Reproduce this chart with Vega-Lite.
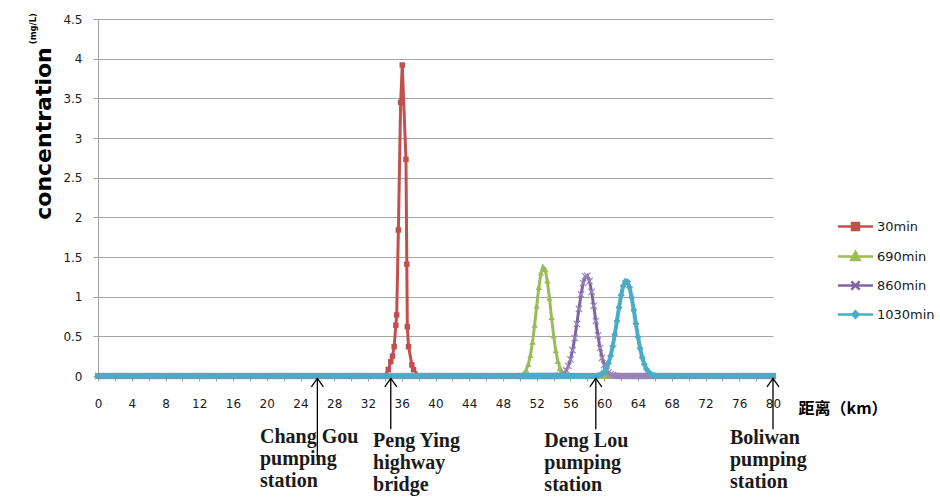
{
  "$schema": "https://vega.github.io/schema/vega-lite/v6.json",
  "width": 675,
  "height": 357,
  "autosize": "none",
  "padding": {"left": 98, "top": 19, "right": 167, "bottom": 125},
  "background": "white",
  "config": {"view": {"stroke": null}},
  "title": {"text": "(mg/L)", "orient": "left", "anchor": "end", "font": "DejaVu Sans", "fontSize": 8.5, "fontWeight": "bold", "color": "#000000", "offset": -5},
  "datasets": {
    "main": [
      {"x":0,"a":0,"b":0,"c":0,"d":0},{"x":0.5,"a":0,"b":0,"c":0,"d":0},{"x":1,"a":0,"b":0,"c":0,"d":0},{"x":1.5,"a":0,"b":0,"c":0,"d":0},
      {"x":2,"a":0,"b":0,"c":0,"d":0},{"x":2.5,"a":0,"b":0,"c":0,"d":0},{"x":3,"a":0,"b":0,"c":0,"d":0},{"x":3.5,"a":0,"b":0,"c":0,"d":0},
      {"x":4,"a":0,"b":0,"c":0,"d":0},{"x":4.5,"a":0,"b":0,"c":0,"d":0},{"x":5,"a":0,"b":0,"c":0,"d":0},{"x":5.5,"a":0,"b":0,"c":0,"d":0},
      {"x":6,"a":0,"b":0,"c":0,"d":0},{"x":6.5,"a":0,"b":0,"c":0,"d":0},{"x":7,"a":0,"b":0,"c":0,"d":0},{"x":7.5,"a":0,"b":0,"c":0,"d":0},
      {"x":8,"a":0,"b":0,"c":0,"d":0},{"x":8.5,"a":0,"b":0,"c":0,"d":0},{"x":9,"a":0,"b":0,"c":0,"d":0},{"x":9.5,"a":0,"b":0,"c":0,"d":0},
      {"x":10,"a":0,"b":0,"c":0,"d":0},{"x":10.5,"a":0,"b":0,"c":0,"d":0},{"x":11,"a":0,"b":0,"c":0,"d":0},{"x":11.5,"a":0,"b":0,"c":0,"d":0},
      {"x":12,"a":0,"b":0,"c":0,"d":0},{"x":12.5,"a":0,"b":0,"c":0,"d":0},{"x":13,"a":0,"b":0,"c":0,"d":0},{"x":13.5,"a":0,"b":0,"c":0,"d":0},
      {"x":14,"a":0,"b":0,"c":0,"d":0},{"x":14.5,"a":0,"b":0,"c":0,"d":0},{"x":15,"a":0,"b":0,"c":0,"d":0},{"x":15.5,"a":0,"b":0,"c":0,"d":0},
      {"x":16,"a":0,"b":0,"c":0,"d":0},{"x":16.5,"a":0,"b":0,"c":0,"d":0},{"x":17,"a":0,"b":0,"c":0,"d":0},{"x":17.5,"a":0,"b":0,"c":0,"d":0},
      {"x":18,"a":0,"b":0,"c":0,"d":0},{"x":18.5,"a":0,"b":0,"c":0,"d":0},{"x":19,"a":0,"b":0,"c":0,"d":0},{"x":19.5,"a":0,"b":0,"c":0,"d":0},
      {"x":20,"a":0,"b":0,"c":0,"d":0},{"x":20.5,"a":0,"b":0,"c":0,"d":0},{"x":21,"a":0,"b":0,"c":0,"d":0},{"x":21.5,"a":0,"b":0,"c":0,"d":0},
      {"x":22,"a":0,"b":0,"c":0,"d":0},{"x":22.5,"a":0,"b":0,"c":0,"d":0},{"x":23,"a":0,"b":0,"c":0,"d":0},{"x":23.5,"a":0,"b":0,"c":0,"d":0},
      {"x":24,"a":0,"b":0,"c":0,"d":0},{"x":24.5,"a":0,"b":0,"c":0,"d":0},{"x":25,"a":0,"b":0,"c":0,"d":0},{"x":25.5,"a":0,"b":0,"c":0,"d":0},
      {"x":26,"a":0,"b":0,"c":0,"d":0},{"x":26.5,"a":0,"b":0,"c":0,"d":0},{"x":27,"a":0,"b":0,"c":0,"d":0},{"x":27.5,"a":0,"b":0,"c":0,"d":0},
      {"x":28,"a":0,"b":0,"c":0,"d":0},{"x":28.5,"a":0,"b":0,"c":0,"d":0},{"x":29,"a":0,"b":0,"c":0,"d":0},{"x":29.5,"a":0,"b":0,"c":0,"d":0},
      {"x":30,"a":0,"b":0,"c":0,"d":0},{"x":30.5,"a":0,"b":0,"c":0,"d":0},{"x":31,"a":0,"b":0,"c":0,"d":0},{"x":31.5,"a":0,"b":0,"c":0,"d":0},
      {"x":32,"a":0,"b":0,"c":0,"d":0},{"x":32.5,"a":0,"b":0,"c":0,"d":0},{"x":33,"a":0,"b":0,"c":0,"d":0},{"x":33.5,"a":0,"b":0,"c":0,"d":0},
      {"x":34,"a":0,"b":0,"c":0,"d":0},
      {"x":34.4,"a":0.08},
      {"x":34.5,"b":0,"c":0,"d":0},
      {"x":34.7,"a":0.18},
      {"x":34.9,"a":0.25},
      {"x":35,"b":0,"c":0,"d":0},
      {"x":35.1,"a":0.37},
      {"x":35.3,"a":0.64},
      {"x":35.4,"a":0.77},
      {"x":35.5,"b":0,"c":0,"d":0},
      {"x":35.6,"a":1.84},
      {"x":35.87,"a":3.45},
      {"x":36,"b":0,"c":0,"d":0},
      {"x":36.06,"a":3.92},
      {"x":36.5,"a":2.73,"b":0,"c":0,"d":0},
      {"x":36.6,"a":1.41},
      {"x":36.66,"a":0.62},
      {"x":36.8,"a":0.37},
      {"x":37,"b":0,"c":0,"d":0},
      {"x":37.2,"a":0.14},
      {"x":37.4,"a":0.08},
      {"x":37.5,"b":0,"c":0,"d":0},
      {"x":38,"a":0,"b":0,"c":0,"d":0},{"x":38.5,"a":0,"b":0,"c":0,"d":0},{"x":39,"a":0,"b":0,"c":0,"d":0},{"x":39.5,"a":0,"b":0,"c":0,"d":0},
      {"x":40,"a":0,"b":0,"c":0,"d":0},{"x":40.5,"a":0,"b":0,"c":0,"d":0},{"x":41,"a":0,"b":0,"c":0,"d":0},{"x":41.5,"a":0,"b":0,"c":0,"d":0},
      {"x":42,"a":0,"b":0,"c":0,"d":0},{"x":42.5,"a":0,"b":0,"c":0,"d":0},{"x":43,"a":0,"b":0,"c":0,"d":0},{"x":43.5,"a":0,"b":0,"c":0,"d":0},
      {"x":44,"a":0,"b":0,"c":0,"d":0},{"x":44.5,"a":0,"b":0,"c":0,"d":0},{"x":45,"a":0,"b":0,"c":0,"d":0},{"x":45.5,"a":0,"b":0,"c":0,"d":0},
      {"x":46,"a":0,"b":0,"c":0,"d":0},{"x":46.5,"a":0,"b":0,"c":0,"d":0},{"x":47,"a":0,"b":0,"c":0,"d":0},{"x":47.5,"a":0,"b":0,"c":0,"d":0},
      {"x":48,"a":0,"b":0,"c":0,"d":0},{"x":48.5,"a":0,"b":0,"c":0,"d":0},{"x":49,"a":0,"b":0,"c":0,"d":0},{"x":49.5,"a":0,"b":0,"c":0,"d":0},
      {"x":50,"a":0,"b":0.006,"c":0,"d":0},
      {"x":50.25,"a":0,"b":0.015,"c":0,"d":0},
      {"x":50.5,"a":0,"b":0.035,"c":0,"d":0},
      {"x":50.75,"a":0,"b":0.075,"c":0,"d":0},
      {"x":51,"a":0,"b":0.147,"c":0,"d":0},
      {"x":51.25,"a":0,"b":0.262,"c":0,"d":0},
      {"x":51.5,"a":0,"b":0.428,"c":0,"d":0},
      {"x":51.75,"a":0,"b":0.643,"c":0,"d":0},
      {"x":52,"a":0,"b":0.886,"c":0,"d":0},
      {"x":52.25,"a":0,"b":1.12,"c":0,"d":0},
      {"x":52.5,"a":0,"b":1.297,"c":0,"d":0},
      {"x":52.75,"a":0,"b":1.377,"c":0,"d":0},
      {"x":53,"a":0,"b":1.343,"c":0,"d":0},
      {"x":53.25,"a":0,"b":1.2,"c":0,"d":0},
      {"x":53.5,"a":0,"b":0.983,"c":0,"d":0},
      {"x":53.75,"a":0,"b":0.739,"c":0,"d":0},
      {"x":54,"a":0,"b":0.509,"c":0,"d":0},
      {"x":54.25,"a":0,"b":0.32,"c":0,"d":0},
      {"x":54.5,"a":0,"b":0.187,"c":0.003,"d":0},
      {"x":54.75,"a":0,"b":0.099,"c":0.008,"d":0},
      {"x":55,"a":0,"b":0.048,"c":0.019,"d":0},
      {"x":55.25,"a":0,"b":0.022,"c":0.038,"d":0},
      {"x":55.5,"a":0,"b":0.009,"c":0.071,"d":0},
      {"x":55.75,"a":0,"b":0.003,"c":0.126,"d":0},
      {"x":56,"a":0,"b":0,"c":0.209,"d":0},
      {"x":56.25,"a":0,"b":0,"c":0.326,"d":0},
      {"x":56.5,"a":0,"b":0,"c":0.477,"d":0},
      {"x":56.75,"a":0,"b":0,"c":0.656,"d":0},
      {"x":57,"a":0,"b":0,"c":0.847,"d":0},
      {"x":57.25,"a":0,"b":0,"c":1.028,"d":0},
      {"x":57.5,"a":0,"b":0,"c":1.172,"d":0},
      {"x":57.75,"a":0,"b":0,"c":1.256,"d":0},
      {"x":58,"a":0,"b":0,"c":1.264,"d":0},
      {"x":58.25,"a":0,"b":0,"c":1.195,"d":0},
      {"x":58.5,"a":0,"b":0,"c":1.061,"d":0},
      {"x":58.75,"a":0,"b":0,"c":0.885,"d":0},
      {"x":59,"a":0,"b":0,"c":0.693,"d":0},
      {"x":59.25,"a":0,"b":0,"c":0.511,"d":0.007},
      {"x":59.5,"a":0,"b":0,"c":0.353,"d":0.015},
      {"x":59.75,"a":0,"b":0,"c":0.229,"d":0.03},
      {"x":60,"a":0,"b":0,"c":0.14,"d":0.056},
      {"x":60.25,"a":0,"b":0,"c":0.08,"d":0.098},
      {"x":60.5,"a":0,"b":0,"c":0.043,"d":0.162},
      {"x":60.75,"a":0,"b":0,"c":0.022,"d":0.253},
      {"x":61,"a":0,"b":0,"c":0.01,"d":0.375},
      {"x":61.25,"a":0,"b":0,"c":0.004,"d":0.524},
      {"x":61.5,"a":0,"b":0,"c":0,"d":0.692},
      {"x":61.75,"a":0,"b":0,"c":0,"d":0.864},
      {"x":62,"a":0,"b":0,"c":0,"d":1.019},
      {"x":62.25,"a":0,"b":0,"c":0,"d":1.135},
      {"x":62.5,"a":0,"b":0,"c":0,"d":1.195},
      {"x":62.75,"a":0,"b":0,"c":0,"d":1.188},
      {"x":63,"a":0,"b":0,"c":0,"d":1.116},
      {"x":63.25,"a":0,"b":0,"c":0,"d":0.99},
      {"x":63.5,"a":0,"b":0,"c":0,"d":0.83},
      {"x":63.75,"a":0,"b":0,"c":0,"d":0.658},
      {"x":64,"a":0,"b":0,"c":0,"d":0.492},
      {"x":64.25,"a":0,"b":0,"c":0,"d":0.348},
      {"x":64.5,"a":0,"b":0,"c":0,"d":0.233},
      {"x":64.75,"a":0,"b":0,"c":0,"d":0.147},
      {"x":65,"a":0,"b":0,"c":0,"d":0.087},
      {"x":65.25,"a":0,"b":0,"c":0,"d":0.049},
      {"x":65.5,"a":0,"b":0,"c":0,"d":0.026},
      {"x":65.75,"a":0,"b":0,"c":0,"d":0.013},
      {"x":66,"a":0,"b":0,"c":0,"d":0.006},
      {"x":66.5,"a":0,"b":0,"c":0,"d":0},{"x":67,"a":0,"b":0,"c":0,"d":0},{"x":67.5,"a":0,"b":0,"c":0,"d":0},
      {"x":68,"a":0,"b":0,"c":0,"d":0},{"x":68.5,"a":0,"b":0,"c":0,"d":0},{"x":69,"a":0,"b":0,"c":0,"d":0},{"x":69.5,"a":0,"b":0,"c":0,"d":0},
      {"x":70,"a":0,"b":0,"c":0,"d":0},{"x":70.5,"a":0,"b":0,"c":0,"d":0},{"x":71,"a":0,"b":0,"c":0,"d":0},{"x":71.5,"a":0,"b":0,"c":0,"d":0},
      {"x":72,"a":0,"b":0,"c":0,"d":0},{"x":72.5,"a":0,"b":0,"c":0,"d":0},{"x":73,"a":0,"b":0,"c":0,"d":0},{"x":73.5,"a":0,"b":0,"c":0,"d":0},
      {"x":74,"a":0,"b":0,"c":0,"d":0},{"x":74.5,"a":0,"b":0,"c":0,"d":0},{"x":75,"a":0,"b":0,"c":0,"d":0},{"x":75.5,"a":0,"b":0,"c":0,"d":0},
      {"x":76,"a":0,"b":0,"c":0,"d":0},{"x":76.5,"a":0,"b":0,"c":0,"d":0},{"x":77,"a":0,"b":0,"c":0,"d":0},{"x":77.5,"a":0,"b":0,"c":0,"d":0},
      {"x":78,"a":0,"b":0,"c":0,"d":0},{"x":78.5,"a":0,"b":0,"c":0,"d":0},{"x":79,"a":0,"b":0,"c":0,"d":0},{"x":79.5,"a":0,"b":0,"c":0,"d":0},
      {"x":80,"a":0,"b":0,"c":0,"d":0}
    ],
    "arrows": [
      {"x":26,"y0":-0.03,"y1":-1.06},
      {"x":34.7,"y0":-0.03,"y1":-0.67},
      {"x":59,"y0":-0.03,"y1":-0.67},
      {"x":80,"y0":-0.03,"y1":-0.67}
    ],
    "notes": [
      {"lx":19.2,"ly":-0.77,"label":["Chang Gou","pumping","station"]},
      {"lx":32.6,"ly":-0.82,"label":["Peng Ying","highway","bridge"]},
      {"lx":52.9,"ly":-0.82,"label":["Deng Lou","pumping","station"]},
      {"lx":74.9,"ly":-0.78,"label":["Boliwan","pumping","station"]}
    ]
  },
  "layer": [
    {
      "data": {"name": "main"},
      "transform": [{"filter": "isValid(datum.a)"}],
      "mark": {"type": "line", "color": "#C0504D", "strokeWidth": 3, "point": {"shape": "square", "size": 30, "filled": true, "color": "#C0504D"}},
      "encoding": {
        "x": {"field": "x", "type": "quantitative", "title": "距离（km）",
          "scale": {"domain": [0, 80], "nice": false},
          "axis": {"values": [0,2,4,6,8,10,12,14,16,18,20,22,24,26,28,30,32,34,36,38,40,42,44,46,48,50,52,54,56,58,60,62,64,66,68,70,72,74,76,78,80],
            "tickCount": 100,
            "labelExpr": "datum.value % 4 == 0 ? '' + datum.value : ''",
            "grid": false, "tickSize": 5, "tickColor": "#A0A0A0", "domainColor": "#A0A0A0",
            "labelPadding": 17, "labelFont": "DejaVu Sans", "labelFontSize": 12, "labelColor": "#1a1a1a",
            "labelFlush": false, "labelOverlap": false,
            "titleFont": "Noto Sans CJK SC", "titleFontSize": 16, "titleFontWeight": "bold", "titleColor": "#000000",
            "titleX": 700, "titleY": 32, "titleAlign": "left", "titleBaseline": "middle"}},
        "y": {"field": "a", "type": "quantitative", "title": "concentration",
          "scale": {"domain": [0, 4.5], "nice": false},
          "axis": {"values": [0,0.5,1,1.5,2,2.5,3,3.5,4,4.5],
            "tickCount": 100,
            "labelExpr": "datum.value % 1 == 0 ? '' + datum.value : datum.value + '\u00a0\u00a0'",
            "labelOverlap": false,
            "grid": true, "gridColor": "#A6A6A6", "tickSize": 5, "tickColor": "#A0A0A0", "domainColor": "#A0A0A0",
            "labelPadding": 11, "labelFont": "DejaVu Sans", "labelFontSize": 12, "labelColor": "#1a1a1a",
            "titleFont": "DejaVu Sans", "titleFontSize": 22, "titleFontWeight": "bold", "titleColor": "#000000",
            "titleX": -55, "titleY": 114, "titleAngle": 270, "titleAlign": "center", "titleBaseline": "middle"}}
      }
    },
    {
      "data": {"name": "main"},
      "transform": [{"filter": "isValid(datum.b)"}],
      "mark": {"type": "line", "color": "#9BBB59", "strokeWidth": 3, "point": {"shape": "triangle-up", "size": 40, "filled": true, "color": "#9BBB59"}},
      "encoding": {
        "x": {"field": "x", "type": "quantitative", "title": "距离（km）", "scale": {"domain": [0, 80], "nice": false}},
        "y": {"field": "b", "type": "quantitative", "title": "concentration", "scale": {"domain": [0, 4.5], "nice": false}}
      }
    },
    {
      "data": {"name": "main"},
      "transform": [{"filter": "isValid(datum.c)"}],
      "mark": {"type": "line", "color": "#8064A2", "strokeWidth": 3, "point": {"shape": "M-1,-1L1,1M-1,1L1,-1", "size": 40, "filled": false, "strokeWidth": 1.2, "color": "#9A84BA"}},
      "encoding": {
        "x": {"field": "x", "type": "quantitative", "title": "距离（km）", "scale": {"domain": [0, 80], "nice": false}},
        "y": {"field": "c", "type": "quantitative", "title": "concentration", "scale": {"domain": [0, 4.5], "nice": false}}
      }
    },
    {
      "data": {"name": "main"},
      "transform": [{"filter": "isValid(datum.d)"}],
      "mark": {"type": "line", "color": "#4BACC6", "strokeWidth": 4, "point": {"shape": "diamond", "size": 50, "filled": true, "color": "#4BACC6"}},
      "encoding": {
        "x": {"field": "x", "type": "quantitative", "title": "距离（km）", "scale": {"domain": [0, 80], "nice": false}},
        "y": {"field": "d", "type": "quantitative", "title": "concentration", "scale": {"domain": [0, 4.5], "nice": false}}
      }
    },
    {
      "data": {"name": "arrows"},
      "mark": {"type": "rule", "color": "#000000", "strokeWidth": 1.3},
      "encoding": {
        "x": {"field": "x", "type": "quantitative", "title": "距离（km）", "scale": {"domain": [0, 80], "nice": false}},
        "y": {"field": "y0", "type": "quantitative", "title": "concentration", "scale": {"domain": [0, 4.5], "nice": false}},
        "y2": {"field": "y1"}
      }
    },
    {
      "data": {"name": "arrows"},
      "mark": {"type": "point", "shape": "M-1,1.4L0,0L1,1.4", "size": 144, "filled": false, "color": "#000000", "strokeWidth": 1.3, "opacity": 1},
      "encoding": {
        "x": {"field": "x", "type": "quantitative", "title": "距离（km）", "scale": {"domain": [0, 80], "nice": false}},
        "y": {"field": "y0", "type": "quantitative", "title": "concentration", "scale": {"domain": [0, 4.5], "nice": false}}
      }
    },
    {
      "data": {"name": "notes"},
      "mark": {"type": "text", "align": "left", "baseline": "middle", "font": "Liberation Serif", "fontSize": 20, "fontWeight": "bold", "lineHeight": 22, "color": "#1a1a1a"},
      "encoding": {
        "x": {"field": "lx", "type": "quantitative", "title": "距离（km）", "scale": {"domain": [0, 80], "nice": false}},
        "y": {"field": "ly", "type": "quantitative", "title": "concentration", "scale": {"domain": [0, 4.5], "nice": false}},
        "text": {"field": "label", "type": "nominal"}
      }
    },
    {
      "data": {"name": "main"},
      "transform": [{"filter": "false"}],
      "mark": {"type": "point", "filled": true, "strokeWidth": 2.5, "opacity": 1},
      "encoding": {
        "fill": {"field": "s", "type": "nominal", "title": null,
          "scale": {"domain": ["30min", "690min", "860min", "1030min"], "range": ["#C0504D", "#9BBB59", "#8064A2", "#4BACC6"]},
          "legend": {"orient": "none", "legendX": 751, "legendY": 201, "padding": 0,
            "symbolSize": 49, "symbolStrokeWidth": 2.5, "labelOffset": 15, "rowPadding": 11,
            "labelFont": "DejaVu Sans", "labelFontSize": 13, "labelColor": "#1a1a1a"}},
        "stroke": {"field": "s", "type": "nominal", "title": null,
          "scale": {"domain": ["30min", "690min", "860min", "1030min"], "range": ["#C0504D", "#9BBB59", "#8064A2", "#4BACC6"]}},
        "shape": {"field": "s", "type": "nominal", "title": null,
          "scale": {"domain": ["30min", "690min", "860min", "1030min"],
            "range": ["M-5,0H5M-1,-1H1V1H-1Z", "M-5,0H5M0,-1.3L1.2,1L-1.2,1Z", "M-5,0H5M-1.2,-1.2L1.2,1.2M-1.2,1.2L1.2,-1.2", "M-5,0H5M0,-0.9L0.9,0L0,0.9L-0.9,0Z"]}}
      }
    }
  ]
}
